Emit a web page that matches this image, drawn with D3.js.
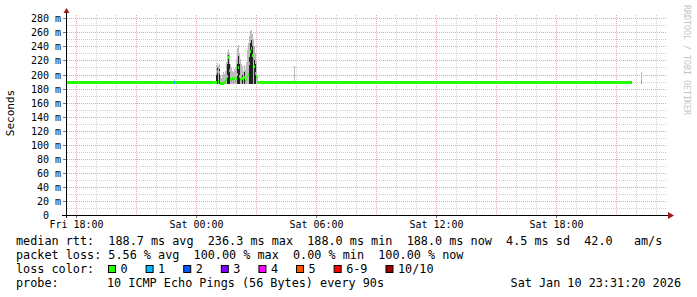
<!DOCTYPE html>
<html>
<head>
<meta charset="utf-8">
<script src="https://cdn.jsdelivr.net/npm/d3@7"></script>
<style>
body { margin: 0; background: #fff; }
text { font-family: "DejaVu Sans Mono", monospace; }
</style>
</head>
<body>
<div class="vis"></div>
<script>
// time window of the graph
var startTime = new Date(2026, 0, 9, 17, 31, 20);
var endTime = new Date(2026, 0, 10, 23, 31, 20);
var yMax = 284.7;          // ms at top of canvas
var rttFloor = 187;        // lowest ping seen, bottom of smoke

// quiet stretches and single events (each value holds until the next time)
var eventTimes = ["2026-01-09 17:31", "2026-01-09 22:55", "2026-01-09 22:58",
	"2026-01-10 03:10", "2026-01-10 04:55", "2026-01-10 04:58",
	"2026-01-10 19:58", "2026-01-10 20:01", "2026-01-10 21:46",
	"2026-01-10 21:49", "2026-01-10 22:16", "2026-01-10 22:19"];
var eventMedian = [188, 188, 188, 188, 188, 188, 188, 188, 188, null, 188, null];
var eventDark = [188, 188, 188, 188, 188, 188, 188, 188, 188, null, 188, null];
var eventMax = [189, 194, 189, 189, 212, 189, 189, 189, 189, null, 203, null];
var eventLoss = [0, 1, 0, 0, 0, 0, 1, 0, 1, 10, 1, 10];

// the jittery burst after midnight, one sample every 3 minutes
var burstStart = "2026-01-10 00:52";
var burstStepMin = 3;
var burstMedian = [188, 188, 188, 188, 204, 190, 202, 187, 186, 186, 187, 188, 190, 192, 197, 224,
	205, 192, 190, 194, 190, 193, 190, 194, 200, 209, 196, 192, 190, 194, 191, 195, 190, 192, 196,
	200, 215, 232, 236.3, 226, 220, 210, 201, 197, 188, 188];
var burstDark = [188, 188, 188, 200, 209, 190, 208, 187, 186, 186, 187, 188, 190, 192, 215, 228,
	215, 192, 190, 194, 190, 193, 190, 194, 215, 227, 215, 192, 190, 200, 191, 204, 190, 192, 196,
	200, 225, 245, 249, 240, 220, 220, 215, 197, 188, 188];
var burstMax = [190, 191, 189, 214, 216, 212, 215, 200, 195, 200, 203, 201, 205, 218, 232, 236,
	230, 215, 210, 205, 204, 208, 210, 222, 238, 242, 230, 222, 215, 212, 205, 214, 208, 218, 235,
	245, 255, 262, 264, 258, 250, 240, 230, 218, 200, 190];

var lossLabels = ["0", "1", "2", "3", "4", "5", "6-9", "10/10"];
var lossColors = ["#26ff00", "#00b8ff", "#0059ff", "#7e00ff", "#ff00ff", "#ff5500", "#ff0000", "#a10000"];

var legendRtt = ["median rtt:", "188.7 ms avg", "236.3 ms max", "188.0 ms min", "188.0 ms now", "4.5 ms sd", "42.0   am/s"];
var legendLoss = ["packet loss:", "5.56 % avg", "100.00 % max", "0.00 % min", "100.00 % now"];
var probeText = "10 ICMP Echo Pings (56 Bytes) every 90s";
var stampText = "Sat Jan 10 23:31:20 2026";

var parse = d3.timeParse("%Y-%m-%d %H:%M");

// merge both lists into one sorted step series
var samples = eventTimes.map((t, i) => ({t: parse(t), median: eventMedian[i], dark: eventDark[i], max: eventMax[i], loss: eventLoss[i]}));
var b0 = parse(burstStart);
burstMedian.forEach((m, i) => {
	samples.push({t: d3.timeMinute.offset(b0, i * burstStepMin), median: m, dark: burstDark[i], max: burstMax[i], loss: 0});
});
samples.sort((a, b) => a.t - b.t);
samples.forEach((d, i) => { d.t1 = i < samples.length - 1 ? samples[i + 1].t : endTime; });
var known = samples.filter(d => d.median != null);

function lossIndex(l) {
	if (l >= 10) return 7;
	if (l >= 6) return 6;
	return l;
}

var svg = d3.select(".vis").append("svg")
	.attr("width", 697)
	.attr("height", 297);

var x = d3.scaleTime().domain([startTime, endTime]).rangeRound([66.5, 666.5]);
var y = d3.scaleLinear().domain([0, yMax]).rangeRound([215, 15]);

// grid
var grid = svg.append("g");
var hourTicks = x.ticks(d3.timeHour.every(1));
grid.selectAll("line.vmin")
	.data(hourTicks)
	.enter().append("line")
	.attr("x1", d => x(d) + 0.5).attr("x2", d => x(d) + 0.5)
	.attr("y1", 15).attr("y2", 215)
	.attr("stroke", d => d.getHours() % 3 == 0 ? "#e9a3a3" : "#cfcfcf")
	.attr("stroke-dasharray", "1,1");
grid.selectAll("line.hmin")
	.data(y.ticks(28).filter(v => v > 0))
	.enter().append("line")
	.attr("x1", 67).attr("x2", 667)
	.attr("y1", d => y(d) + 0.5).attr("y2", d => y(d) + 0.5)
	.attr("stroke", d => d % 20 == 0 ? "#e9a3a3" : "#cfcfcf")
	.attr("stroke-dasharray", "1,1");

// smoke
var smoke = svg.append("g");
smoke.selectAll("rect.light")
	.data(known)
	.enter().append("rect")
	.attr("x", d => x(d.t))
	.attr("width", d => Math.max(1, x(d.t1) - x(d.t)))
	.attr("y", d => y(d.max))
	.attr("height", d => y(rttFloor) - y(d.max))
	.attr("fill", "#bcbcbc");
smoke.selectAll("rect.dark")
	.data(known.filter(d => d.dark > d.median))
	.enter().append("rect")
	.attr("x", d => x(d.t))
	.attr("width", d => Math.max(1, x(d.t1) - x(d.t)))
	.attr("y", d => y(d.dark))
	.attr("height", d => y(rttFloor) - y(d.dark))
	.attr("fill", "#222");

// median, coloured by loss
svg.append("g").selectAll("rect")
	.data(known)
	.enter().append("rect")
	.attr("x", d => x(d.t))
	.attr("width", d => Math.max(1, x(d.t1) - x(d.t)))
	.attr("y", d => y(d.median) - 2)
	.attr("height", 3)
	.attr("fill", d => lossColors[lossIndex(d.loss)]);

// axes
var yAxis = svg.append("g")
	.attr("transform", "translate(66,0)")
	.call(d3.axisLeft(y).tickValues(y.ticks(14)).tickSize(3).tickPadding(2)
		.tickFormat(d => d == 0 ? "0" : d + " m"));
yAxis.select(".domain").remove();
yAxis.selectAll("text").attr("font-size", 10).attr("font-family", "DejaVu Sans Mono").attr("fill", "#000")
	.attr("dx", d => d == 0 ? -12 : 0);
yAxis.selectAll("line").attr("stroke", "#777");

var xAxis = svg.append("g")
	.attr("transform", "translate(0,215)")
	.call(d3.axisBottom(x).ticks(d3.timeHour.every(6)).tickSize(3).tickPadding(3)
		.tickFormat(d3.timeFormat("%a %H:%M")));
xAxis.select(".domain").remove();
xAxis.selectAll("text").attr("font-size", 10).attr("font-family", "DejaVu Sans Mono").attr("fill", "#000");
xAxis.selectAll("line").attr("stroke", "#777");

svg.append("line").attr("x1", 62).attr("x2", 669).attr("y1", 215.5).attr("y2", 215.5).attr("stroke", "#000");
svg.append("line").attr("x1", 66.5).attr("x2", 66.5).attr("y1", 218).attr("y2", 12).attr("stroke", "#000");
svg.append("path").attr("d", "M668,212L674,215.5L668,219Z").attr("fill", "#a01818");
svg.append("path").attr("d", "M63.5,13L66.5,8L69.5,13Z").attr("fill", "#a01818");

// labels
svg.append("text")
	.attr("transform", "translate(14,113) rotate(-90)")
	.attr("text-anchor", "middle")
	.attr("font-size", 11)
	.text("Seconds");
svg.append("text")
	.attr("transform", "translate(684,5) rotate(90)")
	.attr("font-size", 8.3)
	.attr("fill", "#c4c4c4")
	.text("RRDTOOL / TOBI OETIKER");

// legend
var legend = svg.append("g").attr("font-size", 11.8).attr("fill", "#000");
legend.append("text").attr("x", 16).attr("y", 245).style("white-space", "pre").text(legendRtt.join("  "));
legend.append("text").attr("x", 16).attr("y", 259).style("white-space", "pre").text(legendLoss[0] + " " + legendLoss.slice(1).join("  "));
legend.append("text").attr("x", 16).attr("y", 273).text("loss color:");
var bx = 108;
lossLabels.forEach((lab, i) => {
	legend.append("rect").attr("x", bx + 0.5).attr("y", 265.5).attr("width", 7).attr("height", 7)
		.attr("fill", lossColors[i]).attr("stroke", "#000");
	var t = legend.append("text").attr("x", bx + 12.5).attr("y", 273).text(lab);
	bx = bx + 12.5 + t.node().getComputedTextLength() + 18;
});
legend.append("text").attr("x", 16).attr("y", 287).text("probe:");
legend.append("text").attr("x", 107).attr("y", 287).text(probeText);
legend.append("text").attr("x", 681).attr("y", 287).attr("text-anchor", "end").text(stampText);
</script>
</body>
</html>
